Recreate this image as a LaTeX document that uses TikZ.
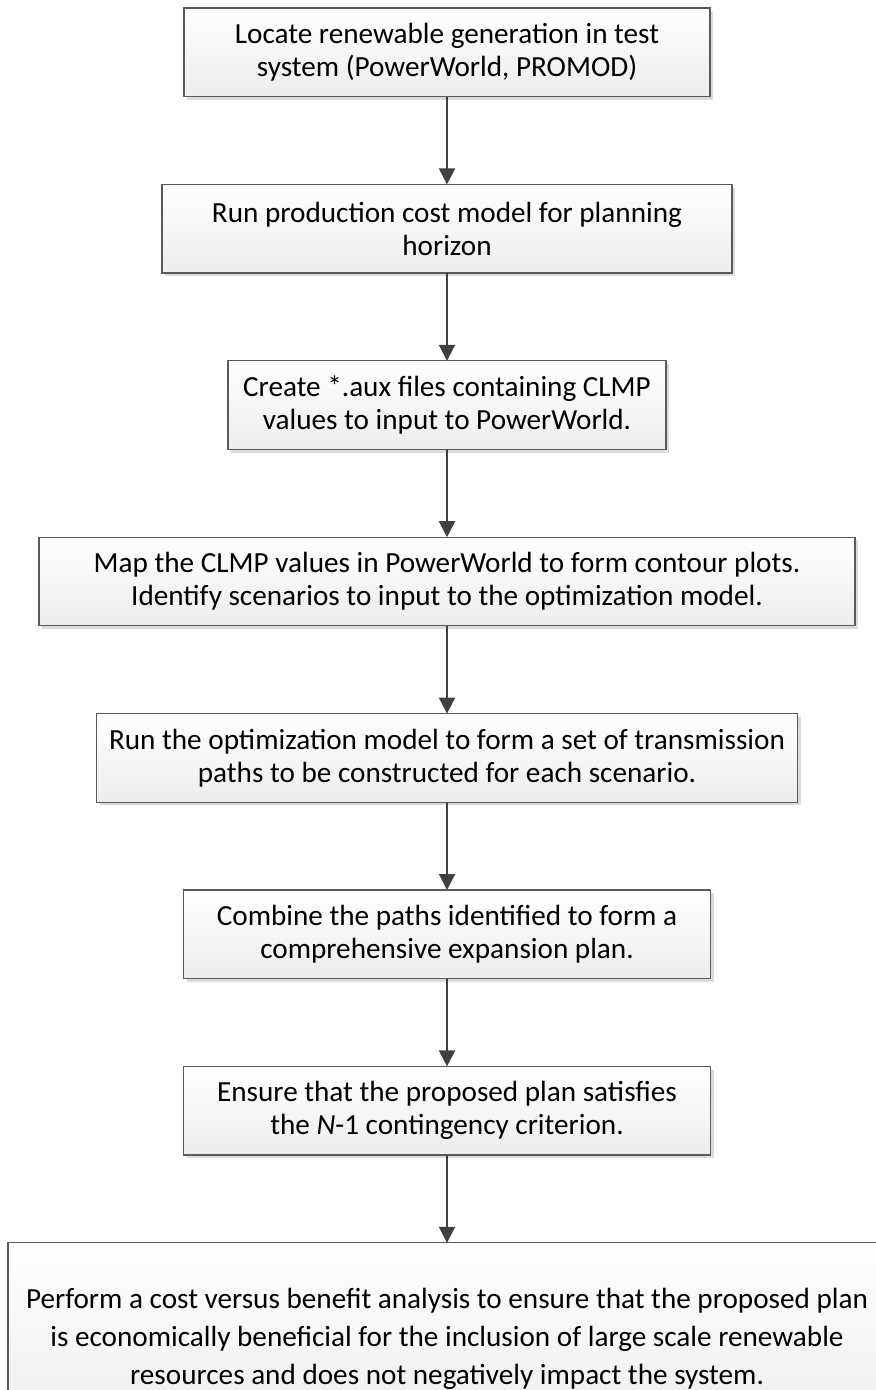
\documentclass[tikz,border=0pt]{standalone}
\usepackage{fontspec}
\setmainfont{Carlito}
\usepackage{tikz}
\usetikzlibrary{arrows.meta, positioning, shadows}
\definecolor{EdgeGray}{HTML}{5A5A5A}
\definecolor{ArrowGray}{HTML}{404040}
\definecolor{FillLow}{HTML}{EDEDED}

\begin{document}
\begin{tikzpicture}[
    stepbox/.style={draw=EdgeGray, line width=0.6pt, top color=white, bottom color=FillLow,
        minimum height=44.3pt, align=center, inner sep=0pt, outer sep=0pt,
        font=\fontsize{14.6}{16.6}\selectfont,
        drop shadow={shadow xshift=1.6pt, shadow yshift=-1.6pt, fill=black!14, opacity=1}},
    flow/.style={draw=ArrowGray, line width=1pt, -{Triangle[length=8pt, width=8pt]}},
    node distance=43.9pt
]
\useasboundingbox (0,0) rectangle (438pt,-695pt);

\node[stepbox, anchor=north, minimum width=263pt] (locate) at (223.5pt,-4pt)
    {Locate renewable generation in test\\system (PowerWorld, PROMOD)};
\node[stepbox, below=of locate, minimum width=285pt] (prodcost)
    {Run production cost model for planning\\horizon};
\node[stepbox, below=of prodcost, minimum width=219pt] (auxfiles)
    {Create *.aux files containing CLMP\\values to input to PowerWorld.};
\node[stepbox, below=of auxfiles, minimum width=408pt] (contour)
    {Map the CLMP values in PowerWorld to form contour plots.\\Identify scenarios to input to the optimization model.};
\node[stepbox, below=of contour, minimum width=350.5pt] (optmodel)
    {Run the optimization model to form a set of transmission\\paths to be constructed for each scenario.};
\node[stepbox, below=of optmodel, minimum width=263.5pt] (combine)
    {Combine the paths identified to form a\\comprehensive expansion plan.};
\node[stepbox, below=of combine, minimum width=263.5pt] (contingency)
    {Ensure that the proposed plan satisfies\\the \textit{N}-1 contingency criterion.};
\node[stepbox, below=of contingency, minimum width=439pt, minimum height=96pt,
      font=\fontsize{14.6}{19}\selectfont] (costbenefit)
    {Perform a cost versus benefit analysis to ensure that the proposed plan\\
     is economically beneficial for the inclusion of large scale renewable\\
     resources and does not negatively impact the system.};

% arrows between steps
\draw[flow] (locate) -- (prodcost);
\draw[flow] (prodcost) -- (auxfiles);
\draw[flow] (auxfiles) -- (contour);
\draw[flow] (contour) -- (optmodel);
\draw[flow] (optmodel) -- (combine);
\draw[flow] (combine) -- (contingency);
\draw[flow] (contingency) -- (costbenefit);
\end{tikzpicture}
\end{document}
